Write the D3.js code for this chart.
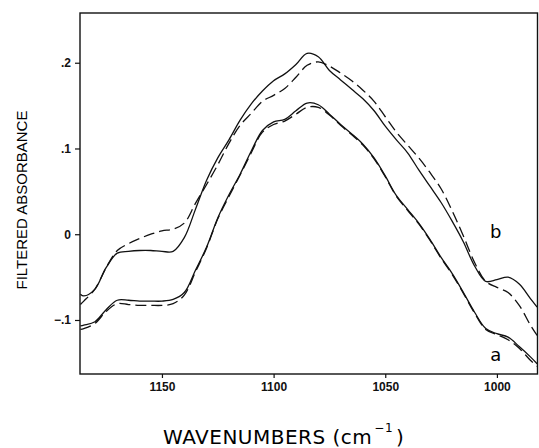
<!DOCTYPE html>
<html>
<head>
<meta charset="utf-8">
<script src="https://cdn.jsdelivr.net/npm/d3@7"></script>
<style>
  body { margin: 0; background: #fff; }
  svg { display: block; }
  .axis text { font-family: "Liberation Sans", Arial, sans-serif; font-weight: bold; font-size: 12px; fill: #111; }
  .axis line { stroke: #111; stroke-width: 1.2; }
  .axis path { display: none; }
  .curve { fill: none; stroke: #111; stroke-width: 1.3; }
  .dashed { stroke-dasharray: 11, 5; }
</style>
</head>
<body>
<div id="vis"></div>
<script>
// wavenumber grid (cm-1) shared by all four spectra
var wavenumbers = [1186.5, 1185, 1180, 1175, 1170, 1165, 1160, 1155, 1150, 1145,
  1140, 1135, 1130, 1125, 1120, 1115, 1110, 1105, 1100, 1095,
  1090, 1085, 1080, 1075, 1070, 1065, 1060, 1055, 1050, 1045,
  1040, 1035, 1030, 1025, 1020, 1015, 1010, 1005, 1000, 995,
  990, 985, 982];

// spectrum b, solid
var bSolid = [-0.070, -0.072, -0.064, -0.039, -0.022, -0.020, -0.019, -0.019, -0.020, -0.020,
  -0.004, 0.029, 0.063, 0.089, 0.110, 0.133, 0.152, 0.167, 0.179, 0.187,
  0.198, 0.211, 0.207, 0.191, 0.180, 0.169, 0.158, 0.144, 0.126, 0.110,
  0.095, 0.075, 0.056, 0.037, 0.015, -0.009, -0.037, -0.055, -0.053, -0.050,
  -0.058, -0.075, -0.085];

// spectrum b, dashed
var bDashed = [-0.082, -0.078, -0.064, -0.039, -0.019, -0.011, -0.005, 0.000, 0.004, 0.006,
  0.013, 0.036, 0.058, 0.081, 0.106, 0.127, 0.141, 0.155, 0.162, 0.170,
  0.183, 0.197, 0.201, 0.196, 0.188, 0.179, 0.168, 0.155, 0.137, 0.119,
  0.104, 0.089, 0.072, 0.053, 0.027, -0.002, -0.033, -0.055, -0.062, -0.068,
  -0.083, -0.106, -0.118];

// spectrum a, solid
var aSolid = [-0.107, -0.106, -0.102, -0.088, -0.077, -0.077, -0.078, -0.078, -0.078, -0.076,
  -0.068, -0.042, -0.015, 0.019, 0.046, 0.070, 0.097, 0.121, 0.131, 0.134,
  0.144, 0.153, 0.151, 0.140, 0.128, 0.117, 0.105, 0.089, 0.068, 0.045,
  0.029, 0.013, -0.006, -0.027, -0.046, -0.068, -0.091, -0.110, -0.116, -0.120,
  -0.131, -0.143, -0.151];

// spectrum a, dashed
var aDashed = [-0.111, -0.110, -0.104, -0.090, -0.081, -0.082, -0.083, -0.083, -0.083, -0.081,
  -0.071, -0.044, -0.016, 0.018, 0.044, 0.069, 0.095, 0.119, 0.128, 0.132,
  0.140, 0.148, 0.148, 0.139, 0.127, 0.116, 0.104, 0.088, 0.067, 0.044,
  0.028, 0.012, -0.007, -0.028, -0.047, -0.069, -0.092, -0.111, -0.117, -0.123,
  -0.133, -0.147, -0.154];

var xTicks = [1150, 1100, 1050, 1000];
var yTicks = [0.2, 0.1, 0, -0.1];

// size of the page and the plot frame
var width = 539;
var height = 448;
var margin = { top: 13, left: 80, bottom: 74, right: 1 };
var innerW = width - margin.left - margin.right;
var innerH = height - margin.top - margin.bottom;

var svg = d3.select('#vis').append('svg')
  .attr('width', width)
  .attr('height', height);

var g = svg.append('g')
  .attr('transform', 'translate(' + margin.left + ',' + margin.top + ')');

// wavenumbers run right to left
var x = d3.scaleLinear()
  .domain([1186.7, 981.6])
  .range([0, innerW]);

var y = d3.scaleLinear()
  .domain([-0.163, 0.258])
  .range([innerH, 0]);

var yFormat = function (d) {
  if (d === 0) { return '0'; }
  return d3.format('.1f')(d).replace('0.', '.');
};

g.append('g')
  .attr('class', 'x axis')
  .attr('transform', 'translate(0,' + innerH + ')')
  .call(d3.axisBottom(x).tickValues(xTicks).tickSize(4).tickPadding(4).tickFormat(d3.format('d')));

g.append('g')
  .attr('class', 'y axis')
  .call(d3.axisLeft(y).tickValues(yTicks).tickSize(5).tickPadding(4).tickFormat(yFormat));

// plot frame
g.append('rect')
  .attr('x', 0)
  .attr('y', 0)
  .attr('width', innerW - 0.5)
  .attr('height', innerH)
  .attr('fill', 'none')
  .attr('stroke', '#111')
  .attr('stroke-width', 1.4);

var line = d3.line()
  .x(function (d) { return x(d[0]); })
  .y(function (d) { return y(d[1]); })
  .curve(d3.curveCatmullRom.alpha(0.5));

var series = [
  { values: bSolid, dashed: false },
  { values: bDashed, dashed: true },
  { values: aSolid, dashed: false },
  { values: aDashed, dashed: true }
];

g.selectAll('.curve')
  .data(series)
  .enter()
  .append('path')
  .attr('class', function (d) { return d.dashed ? 'curve dashed' : 'curve'; })
  .attr('d', function (d) { return line(d3.zip(wavenumbers, d.values)); });

// curve labels
g.append('text')
  .attr('x', x(1000.5))
  .attr('y', y(-0.004))
  .attr('text-anchor', 'middle')
  .style('font-family', '"DejaVu Sans", sans-serif')
  .style('font-size', '18px')
  .text('b');

g.append('text')
  .attr('x', x(1000.5))
  .attr('y', y(-0.148))
  .attr('text-anchor', 'middle')
  .style('font-family', '"DejaVu Sans", sans-serif')
  .style('font-size', '18px')
  .text('a');

// axis titles
svg.append('text')
  .attr('transform', 'translate(27,' + 200 + ') rotate(-90)')
  .attr('text-anchor', 'middle')
  .style('font-family', '"Liberation Sans", Arial, sans-serif')
  .style('font-size', '15px')
  .text('FILTERED ABSORBANCE');

var xTitle = svg.append('text')
  .attr('x', 163)
  .attr('y', 444)
  .style('font-family', '"DejaVu Sans", sans-serif')
  .style('font-size', '20px')
  .style('letter-spacing', '0.5px');

xTitle.append('tspan').text('WAVENUMBERS (cm');
xTitle.append('tspan')
  .attr('dy', -12)
  .attr('dx', 2)
  .style('font-size', '12px')
  .text('\u22121');
xTitle.append('tspan')
  .attr('dy', 12)
  .attr('dx', 3)
  .text(')');
</script>
</body>
</html>
